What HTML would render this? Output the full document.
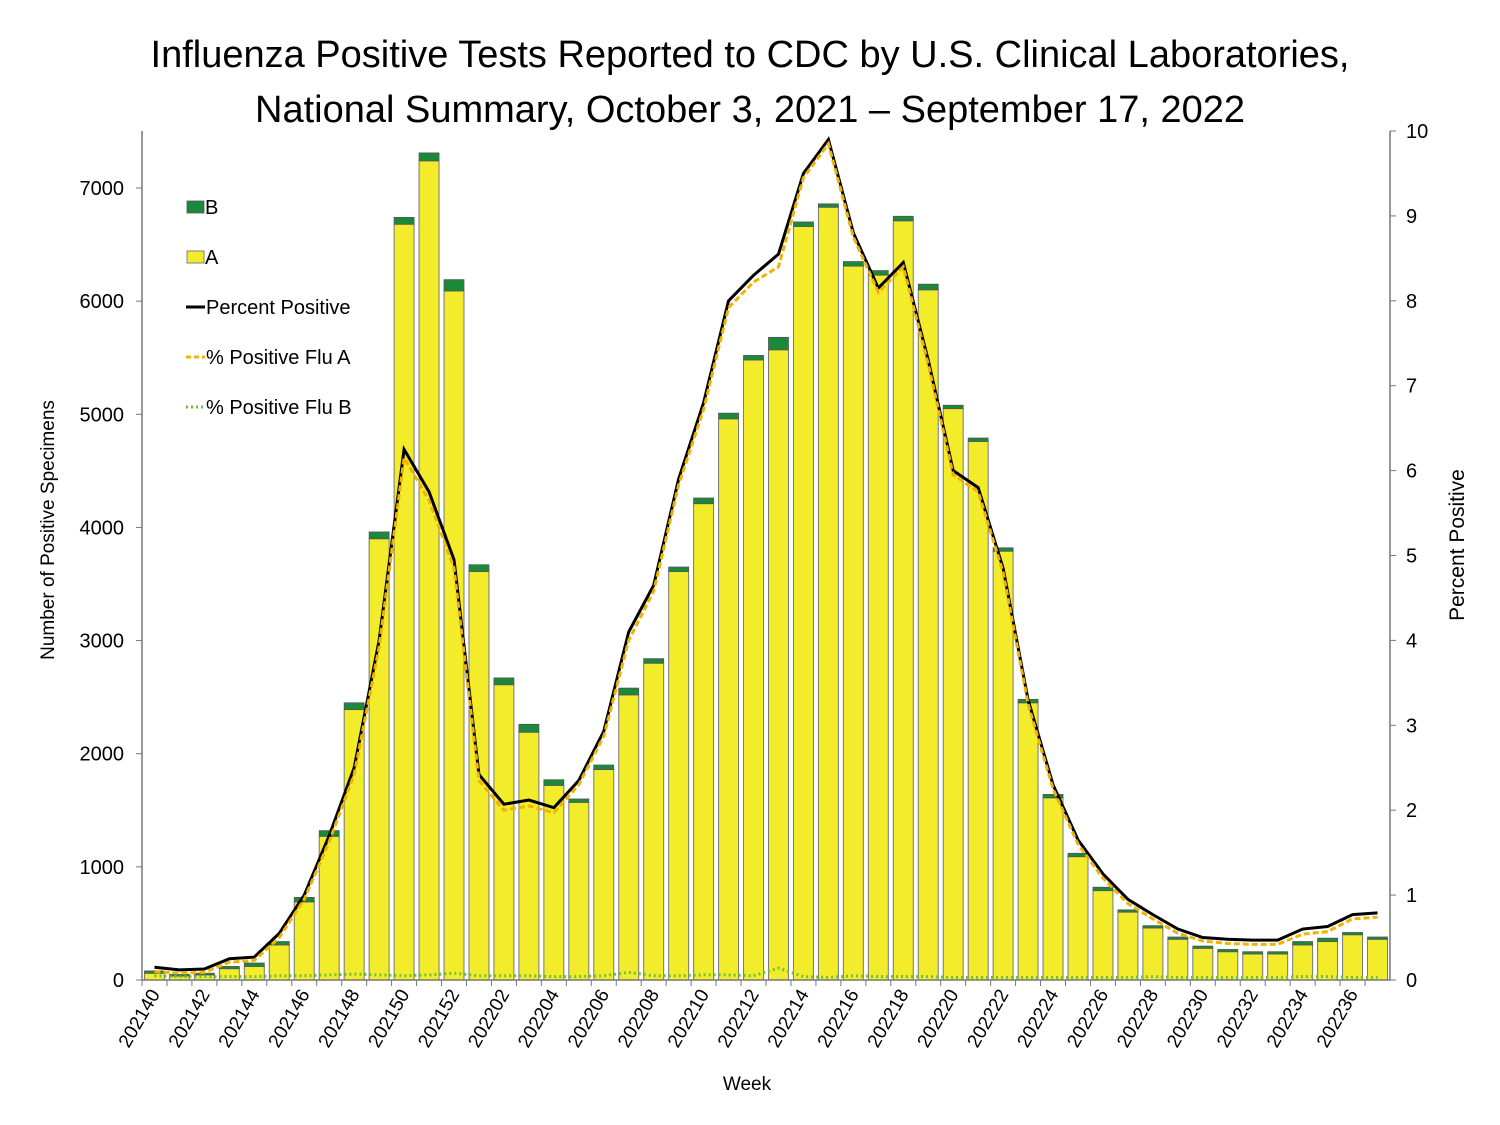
<!DOCTYPE html>
<html><head><meta charset="utf-8">
<style>
body{margin:0;background:#fff;}
svg{display:block;font-family:"Liberation Sans",sans-serif;}
</style></head>
<body>
<svg id="chart" width="1500" height="1125" viewBox="0 0 1500 1125" xmlns="http://www.w3.org/2000/svg">
<text x="750" y="67" font-size="38" text-anchor="middle" fill="#000">Influenza Positive Tests Reported to CDC by U.S. Clinical Laboratories,</text>
<text x="750" y="122" font-size="38" text-anchor="middle" fill="#000">National Summary, October 3, 2021 – September 17, 2022</text>
<g id="bars"></g>
<g id="lines"></g>
<g id="axes"></g>
<text transform="translate(54,530) rotate(-90)" font-size="19" text-anchor="middle">Number of Positive Specimens</text>
<text transform="translate(1464,545) rotate(-90)" font-size="21" text-anchor="middle">Percent Positive</text>
<text x="747" y="1090" font-size="19" text-anchor="middle">Week</text>
<g font-size="20">
<g><rect x="187" y="201" width="17" height="12" fill="#1a8a3a" stroke="#555" stroke-width="0.8"/><text x="205" y="214">B</text></g>
<g><rect x="187" y="251" width="17" height="12" fill="#f2ec2a" stroke="#666" stroke-width="0.8"/><text x="205" y="264">A</text></g>
<g><line x1="186" y1="307" x2="205" y2="307" stroke="#000" stroke-width="3"/><text x="206" y="314">Percent Positive</text></g>
<g><line x1="186" y1="357" x2="205" y2="357" stroke="#f0b400" stroke-width="3" stroke-dasharray="5,3"/><text x="206" y="364">% Positive Flu A</text></g>
<g><line x1="186" y1="407" x2="205" y2="407" stroke="#6fc03a" stroke-width="3" stroke-dasharray="2,3"/><text x="206" y="414">% Positive Flu B</text></g>
</g>
</svg>
<script>
const weeks = ["202140","202141","202142","202143","202144","202145","202146","202147","202148","202149","202150","202151","202152","202201","202202","202203","202204","202205","202206","202207","202208","202209","202210","202211","202212","202213","202214","202215","202216","202217","202218","202219","202220","202221","202222","202223","202224","202225","202226","202227","202228","202229","202230","202231","202232","202233","202234","202235","202236","202237"];
const fluA = [60,35,45,100,120,310,690,1270,2390,3900,6680,7240,6090,3610,2610,2190,1720,1570,1860,2520,2800,3610,4210,4960,5480,5570,6660,6830,6310,6230,6710,6100,5050,4760,3790,2450,1610,1090,790,600,460,360,280,250,230,230,310,340,400,360];
const fluB = [20,15,15,20,30,30,40,50,60,60,60,70,100,60,60,70,50,30,40,60,40,40,50,50,40,110,40,30,40,40,40,50,30,30,30,30,30,30,30,20,20,20,20,20,20,20,30,30,20,20];
const pctPos = [0.15,0.12,0.13,0.25,0.27,0.55,1.0,1.7,2.5,4.0,6.25,5.75,4.95,2.42,2.07,2.12,2.03,2.35,2.93,4.1,4.65,5.9,6.8,8.0,8.3,8.55,9.5,9.9,8.8,8.15,8.45,7.3,6.0,5.8,4.85,3.3,2.3,1.65,1.25,0.95,0.77,0.6,0.5,0.48,0.47,0.47,0.6,0.63,0.77,0.79];
const pctA = [0.1,0.08,0.09,0.21,0.23,0.5,0.95,1.63,2.42,3.92,6.15,5.65,4.85,2.35,2.0,2.05,1.97,2.3,2.87,4.0,4.58,5.83,6.72,7.92,8.22,8.4,9.45,9.85,8.75,8.1,8.4,7.25,5.95,5.75,4.8,3.25,2.25,1.6,1.2,0.9,0.72,0.55,0.46,0.43,0.42,0.42,0.54,0.57,0.72,0.74];
const pctB = [0.05,0.04,0.04,0.04,0.04,0.05,0.05,0.06,0.07,0.06,0.05,0.06,0.08,0.05,0.05,0.05,0.04,0.04,0.05,0.09,0.05,0.05,0.06,0.06,0.05,0.14,0.04,0.03,0.05,0.04,0.04,0.04,0.03,0.03,0.03,0.03,0.03,0.03,0.03,0.03,0.04,0.03,0.03,0.03,0.03,0.03,0.04,0.04,0.03,0.03];
const leftTicks = [0,1000,2000,3000,4000,5000,6000,7000];
const rightTicks = [0,1,2,3,4,5,6,7,8,9,10];

const NS="http://www.w3.org/2000/svg";
const X0=142, X1=1390, Y0=980;
const step=(X1-X0)/weeks.length;
const xC=i=>X0+step*(i+0.5);
const yL=v=>Y0-v*(792/7000);
const yR=v=>Y0-v*84.9;
function mk(tag,attrs,parent){const e=document.createElementNS(NS,tag);for(const k in attrs)e.setAttribute(k,attrs[k]);parent.appendChild(e);return e;}
const gb=document.getElementById('bars'), gl=document.getElementById('lines'), ga=document.getElementById('axes');
const bw=step*0.8;
weeks.forEach((w,i)=>{
  const a=mk('rect',{x:xC(i)-bw/2,y:yL(fluA[i]),width:bw,height:Y0-yL(fluA[i]),fill:'#f2ec2a',stroke:'#777','stroke-width':1},gb);
  
  
  const b=mk('rect',{x:xC(i)-bw/2,y:yL(fluA[i]+fluB[i]),width:bw,height:yL(fluA[i])-yL(fluA[i]+fluB[i]),fill:'#1a8a3a',stroke:'#555','stroke-width':0.8},gb);
  
  
});
function line(arr,name,attrs){
  const p=mk('polyline',Object.assign({points:arr.map((v,i)=>xC(i)+','+yR(v)).join(' '),fill:'none'},attrs),gl);
  
  
}
line(pctB,'line-pct-flu-b',{stroke:'#6fc03a','stroke-width':3,'stroke-dasharray':'2,3'});
line(pctPos,'line-pct-positive',{stroke:'#000','stroke-width':3});
line(pctA,'line-pct-flu-a',{stroke:'#f0b400','stroke-width':3,'stroke-dasharray':'6,3'});
// axes
let ax=mk('line',{x1:X0,y1:131,x2:X0,y2:Y0,stroke:'#777','stroke-width':1.5},ga);

ax=mk('line',{x1:X1,y1:131,x2:X1,y2:Y0,stroke:'#777','stroke-width':1.5},ga);

ax=mk('line',{x1:X0,y1:Y0,x2:X1,y2:Y0,stroke:'#777','stroke-width':1.5},ga);

leftTicks.forEach(t=>{
  mk('line',{x1:X0-6,y1:yL(t),x2:X0,y2:yL(t),stroke:'#777'},ga);
  const tx=mk('text',{x:X0-18,y:yL(t)+7,'font-size':20,'text-anchor':'end'},ga);tx.textContent=t;
  
});
rightTicks.forEach(t=>{
  mk('line',{x1:X1,y1:yR(t),x2:X1+6,y2:yR(t),stroke:'#777'},ga);
  const tx=mk('text',{x:X1+16,y:yR(t)+7,'font-size':20},ga);tx.textContent=t;
  
});
weeks.forEach((w,i)=>{
  mk('line',{x1:X0+step*i,y1:Y0,x2:X0+step*i,y2:Y0+6,stroke:'#777'},ga);
  if(i%2===0){
    const tx=mk('text',{transform:'translate('+(xC(i)+6)+','+(Y0+14)+') rotate(-60)','font-size':19,'text-anchor':'end'},ga);
    tx.textContent=w;
    
  }
});
</script>
</body></html>
